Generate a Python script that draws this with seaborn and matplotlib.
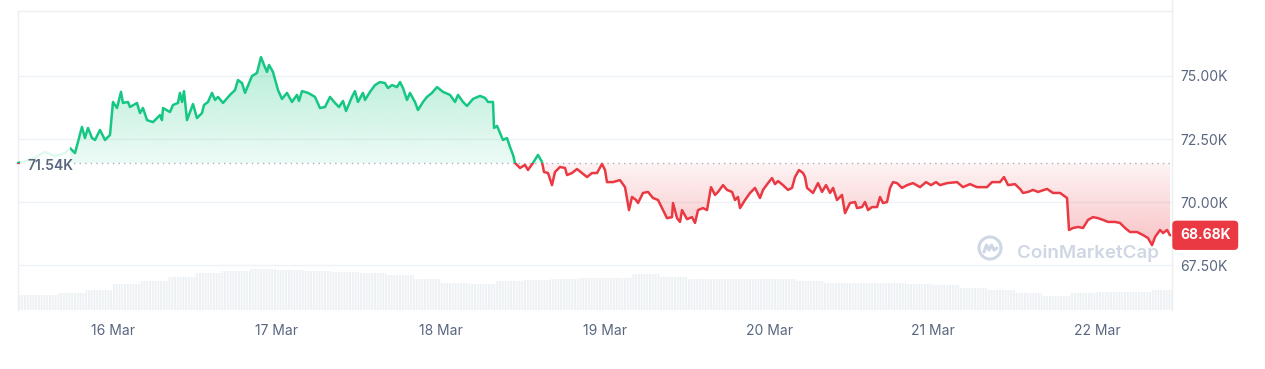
import numpy as np
import pandas as pd
import seaborn as sns
import matplotlib.pyplot as plt
import matplotlib.transforms as mtrans
from matplotlib.patches import Rectangle, Circle
from matplotlib.path import Path
from matplotlib.lines import Line2D

# price (K USD), time in hours from 15 Mar 00:00
hours = [10.10, 11.85, 14.05, 15.51, 16.98, 17.71, 18.44, 19.46, 19.90, 20.34,
         20.93, 21.37, 22.10, 22.83, 23.56, 24.00, 24.59, 25.17, 25.46, 26.20,
         26.49, 27.51, 27.95, 28.39, 28.98, 29.85, 30.88, 31.17, 31.32, 32.34,
         32.78, 33.51, 33.80, 34.10, 34.39, 34.83, 35.71, 36.29, 37.02, 37.32,
         37.90, 38.49, 38.93, 39.37, 40.10, 41.12, 41.85, 42.29, 42.88, 43.32,
         44.34, 45.07, 45.66, 46.10, 46.54, 46.83, 47.41, 48.15, 48.73, 49.46,
         50.19, 50.93, 51.22, 51.66, 52.54, 53.56, 54.29, 55.02, 55.76, 56.49,
         57.07, 57.66, 58.10, 58.97, 59.41, 59.85, 60.58, 60.88, 61.61, 62.34,
         63.07, 63.80, 64.24, 64.83, 65.56, 66.00, 66.44, 67.02, 67.46, 68.19,
         68.63, 69.37, 69.95, 70.68, 71.41, 72.29, 73.32, 74.05, 74.49, 75.22,
         75.80, 76.68, 77.71, 78.44, 78.88, 79.61, 79.76, 80.20, 80.63, 81.07,
         81.66, 82.10, 82.54, 82.83, 83.56, 84.29, 84.73, 85.46, 86.19, 86.78,
         87.07, 87.66, 88.24, 88.68, 89.41, 90.15, 90.44, 91.17, 91.90, 92.63,
         93.37, 94.10, 94.83, 95.56, 96.00, 96.29, 97.17, 98.19, 98.93, 99.51,
         99.95, 100.54, 100.83, 101.56, 102.29, 103.02, 103.76, 104.49, 105.07, 105.80,
         105.95, 106.54, 106.98, 107.27, 108.00, 108.73, 109.17, 109.61, 110.34, 110.93,
         111.51, 112.10, 112.54, 113.27, 113.85, 114.59, 115.02, 115.46, 115.76, 116.49,
         117.22, 117.95, 118.68, 119.12, 119.85, 120.44, 120.88, 121.32, 122.05, 122.78,
         123.37, 123.80, 124.39, 124.98, 125.27, 125.56, 126.44, 127.17, 127.76, 128.34,
         128.93, 129.37, 129.95, 130.68, 131.12, 131.85, 132.59, 132.88, 133.61, 134.05,
         134.49, 135.07, 135.81, 136.24, 136.68, 137.27, 137.71, 138.15, 138.73, 139.46,
         140.20, 141.07, 142.10, 142.97, 143.71, 144.44, 145.02, 146.05, 147.51, 148.39,
         149.41, 150.44, 151.90, 152.63, 153.80, 154.39, 154.98, 155.99, 156.73, 157.17,
         157.90, 158.63, 159.37, 160.68, 161.56, 162.59, 163.61, 163.90, 164.49, 165.22,
         165.95, 166.68, 167.41, 168.15, 168.88, 169.61, 170.63, 171.36, 172.10, 172.83,
         173.85, 174.73, 175.46, 176.05, 176.49, 177.22, 177.66, 178.25, 178.68]
price_k = [71.55, 71.67, 71.98, 71.83, 71.94, 72.14, 71.94, 72.98, 72.54, 72.94,
           72.54, 72.46, 72.86, 72.46, 72.66, 73.97, 73.73, 74.37, 73.93, 73.97,
           73.77, 73.93, 73.53, 73.73, 73.25, 73.17, 73.45, 73.25, 73.73, 73.57,
           73.85, 73.93, 74.33, 73.97, 74.40, 73.25, 73.89, 73.33, 73.53, 73.85,
           73.97, 74.33, 74.05, 74.17, 73.93, 74.25, 74.44, 74.84, 74.72, 74.33,
           75.00, 75.12, 75.75, 75.44, 75.16, 75.44, 75.16, 74.44, 74.09, 74.33,
           73.97, 74.25, 74.01, 74.40, 74.33, 74.17, 73.73, 73.77, 74.17, 73.93,
           73.77, 74.01, 73.61, 74.17, 74.40, 73.97, 74.33, 74.05, 74.37, 74.64,
           74.76, 74.72, 74.52, 74.64, 74.56, 74.76, 74.52, 74.05, 74.33, 73.97,
           73.65, 73.97, 74.17, 74.33, 74.56, 74.37, 74.25, 73.97, 74.25, 73.97,
           73.81, 74.09, 74.21, 74.13, 73.97, 73.97, 72.94, 73.02, 72.74, 72.46,
           72.54, 72.18, 71.87, 71.55, 71.35, 71.47, 71.27, 71.55, 71.87, 71.59,
           71.19, 71.15, 70.67, 71.19, 71.39, 71.35, 71.07, 71.15, 71.31, 71.15,
           70.99, 71.15, 71.15, 71.51, 71.27, 70.79, 70.79, 70.87, 70.59, 69.68,
           70.20, 70.08, 69.96, 70.36, 70.40, 70.16, 70.08, 69.68, 69.36, 69.40,
           69.96, 69.36, 69.21, 69.68, 69.32, 69.40, 69.17, 69.68, 69.76, 69.68,
           70.59, 70.28, 70.40, 70.67, 70.48, 70.40, 70.08, 70.20, 69.76, 70.08,
           70.36, 70.56, 70.16, 70.48, 70.75, 70.95, 70.71, 70.83, 70.67, 70.48,
           70.56, 70.99, 71.27, 71.15, 70.99, 70.56, 70.36, 70.75, 70.40, 70.67,
           70.36, 70.56, 70.08, 70.28, 69.56, 69.96, 70.00, 69.76, 69.80, 70.00,
           69.68, 69.80, 69.80, 70.20, 69.96, 70.00, 70.56, 70.79, 70.75, 70.56,
           70.67, 70.75, 70.59, 70.79, 70.67, 70.79, 70.67, 70.75, 70.79, 70.59,
           70.71, 70.59, 70.59, 70.79, 70.79, 70.99, 70.67, 70.71, 70.52, 70.36,
           70.40, 70.48, 70.40, 70.52, 70.36, 70.36, 70.16, 68.89, 68.97, 69.01,
           68.97, 69.29, 69.40, 69.36, 69.29, 69.21, 69.21, 69.17, 68.97, 68.81,
           68.81, 68.69, 68.57, 68.29, 68.61, 68.89, 68.77, 68.89, 68.68]

# 24h volume (B), sampled every 4 hours
vol_hours = [10, 14, 18, 22, 26, 30, 34, 38, 42, 46, 50, 54, 58, 62, 66, 70,
             74, 78, 82, 86, 90, 94, 98, 102, 106, 110, 114, 118, 122, 126,
             130, 134, 138, 142, 146, 150, 154, 158, 162, 166, 170, 174, 178]
vol_b = [15.0, 15.0, 16.5, 20.0, 25.5, 28.5, 33.0, 37.0, 39.0, 41.4, 40.0,
         39.0, 38.0, 36.7, 35.0, 31.0, 27.0, 26.4, 28.5, 30.0, 31.0, 31.5,
         32.4, 35.7, 33.4, 31.0, 30.7, 30.7, 30.5, 29.0, 27.4, 27.4, 27.0,
         25.7, 25.0, 22.0, 20.0, 17.4, 14.0, 16.7, 18.0, 18.0, 20.0]

tick_hours = [24, 48, 72, 96, 120, 144, 168]
tick_labels = ['16 Mar', '17 Mar', '18 Mar', '19 Mar', '20 Mar', '21 Mar', '22 Mar']
y_ticks = [67.5, 70.0, 72.5, 75.0]
y_labels = ['67.50K', '70.00K', '72.50K', '75.00K']
base = 71.54
last = 68.68

sns.set_theme(style="white")
plt.rcParams['font.family'] = ['Inter', 'DejaVu Sans']
plt.rcParams['hatch.color'] = 'white'
plt.rcParams['hatch.linewidth'] = 0.6

green = '#16c784'
red = '#ea3943'
grid_c = '#eff2f5'
text_c = '#58667e'

df = pd.DataFrame({'hours': hours, 'price': price_k})

fig = plt.figure(figsize=(12.65, 3.69), dpi=100)
ax = fig.add_axes([0.01423, 0.1599, 0.91225, 0.8103])
axv = ax.twinx()
ax.set_zorder(axv.get_zorder() + 1)
ax.patch.set_visible(False)

# volume bars
axv.bar(vol_hours, vol_b, width=4, color='#eef1f4', edgecolor='white',
        linewidth=0, hatch='||||||')
axv.set_ylim(0, 299)
axv.axis('off')

x0, x1 = 10.1, 178.97
y0, y1 = 65.716, 77.579

# gradient fills
hx = np.array(hours)
py = np.array(price_k)
up = ax.fill_between(hx, py, base, where=py >= base, interpolate=True, color='none')
dn = ax.fill_between(hx, py, base, where=py <= base, interpolate=True, color='none')


def grad(coll, col, a_lo, a_hi, ylo, yhi):
    rgb = np.array([int(col[i:i + 2], 16) / 255 for i in (1, 3, 5)])
    img = np.zeros((256, 1, 4))
    img[:, 0, :3] = rgb
    img[:, 0, 3] = np.linspace(a_lo, a_hi, 256)
    im = ax.imshow(img, extent=[x0, x1, ylo, yhi], origin='lower',
                   aspect='auto', interpolation='bilinear', zorder=1)
    im.set_clip_path(Path.make_compound_path(*coll.get_paths()), transform=ax.transData)


grad(up, green, 0.08, 0.32, base, max(price_k))
grad(dn, red, 0.30, 0.06, min(price_k), base)

ax.axhline(base, color='#a6b0c3', linestyle=(0, (1, 3)), linewidth=1, zorder=2)

# price line, green above the open price and red below
for col, lo, hi in [(green, base, y1 + 1), (red, y0 - 1, base)]:
    sns.lineplot(data=df, x='hours', y='price', ax=ax, color=col, linewidth=1.8,
                 sort=False, estimator=None, zorder=3)
    line = ax.lines[-1]
    line.set_solid_joinstyle('round')
    line.set_clip_path(Rectangle((x0 - 5, lo), x1 - x0 + 10, hi - lo, transform=ax.transData))

ax.set_xlim(x0, x1)
ax.set_ylim(y0, y1)
ax.set_xlabel('')
ax.set_ylabel('')

ax.set_yticks(y_ticks)
ax.set_yticklabels(y_labels)
ax.yaxis.tick_right()
ax.set_xticks(tick_hours)
ax.set_xticklabels(tick_labels)
ax.tick_params(axis='y', length=0, pad=6, labelsize=10, labelcolor=text_c)
ax.tick_params(axis='x', length=0, pad=10, labelsize=10, labelcolor=text_c)
ax.yaxis.grid(True, color=grid_c, linewidth=1)
ax.xaxis.grid(False)
ax.set_axisbelow(True)
for s in ['left', 'top', 'right']:
    ax.spines[s].set_color('#eceef1')
    ax.spines[s].set_linewidth(1)
ax.spines['bottom'].set_visible(False)
fig.add_artist(Line2D([0.92648, 0.92648], [0.97, 1.0], color='#eceef1', linewidth=1))

trans = mtrans.blended_transform_factory(ax.transAxes, ax.transData)
# translucent plate behind the open-price label
ax.add_patch(Rectangle((0.002, 70.95), 0.043, 1.27, transform=trans, fc='white',
                       ec='none', alpha=0.88, zorder=5))
ax.text(0.0078, base - 0.12, '71.54K', transform=trans, ha='left', va='center',
        fontsize=10, fontweight='semibold', color=text_c, zorder=6)
ax.text(1.0069, last, '68.68K', transform=trans, ha='left', va='center',
        fontsize=10, fontweight='bold', color='white', zorder=6, clip_on=False,
        bbox=dict(boxstyle='round,pad=0.55,rounding_size=0.3', fc=red, ec='none'))

# watermark
wm = '#cfd6e4'
fig.text(1017 / 1265, (369 - 258) / 369, 'CoinMarketCap', fontsize=13.5,
         fontweight='semibold', color=wm, ha='left', va='baseline')
ident = mtrans.IdentityTransform()
fig.add_artist(Circle((990, 121), 11, transform=ident, fill=False, ec=wm, lw=2.2))
fig.add_artist(Line2D([984, 986.5, 989, 991.5, 994, 997], [117, 124, 119, 124, 119, 121],
                      transform=ident, color=wm, lw=2.2, solid_joinstyle='round'))

fig.savefig('out.png', dpi=100)
